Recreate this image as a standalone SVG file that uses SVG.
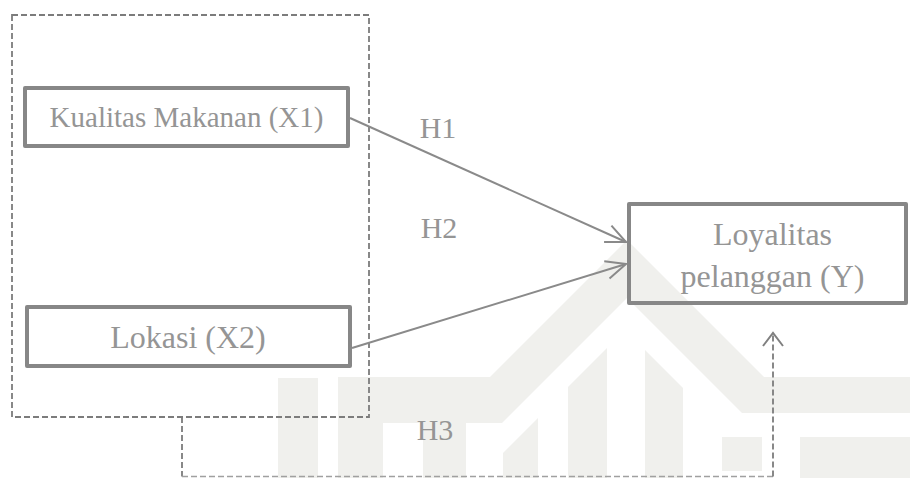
<svg xmlns="http://www.w3.org/2000/svg" width="910" height="478" viewBox="0 0 910 478">
<defs>
<style>
.wm{fill:#f0f0ed;stroke:none}
.box{fill:none;stroke:#878787;stroke-width:4;stroke-linejoin:round}
.dash{fill:none;stroke:#7c7c7c;stroke-width:1.8;stroke-dasharray:6 3}
.dashl{fill:none;stroke:#a0a0a0;stroke-width:1.5;stroke-dasharray:6 3}
.conn{fill:none;stroke:#8a8a8a;stroke-width:2}
.t{font-family:"Liberation Serif","Times New Roman",serif;fill:#959595;text-anchor:middle}
</style>
<marker id="arr" viewBox="0 0 24 24" refX="22" refY="12" markerWidth="24" markerHeight="24" markerUnits="userSpaceOnUse" orient="auto">
<path d="M2,3 L22,12 L2,21" fill="none" stroke="#8a8a8a" stroke-width="2"/>
</marker>
<marker id="arr2" viewBox="0 0 24 24" refX="22" refY="12" markerWidth="24" markerHeight="24" markerUnits="userSpaceOnUse" orient="auto">
<path d="M9,2 L22,12 L9,22" fill="none" stroke="#808080" stroke-width="2"/>
</marker>
</defs>
<rect width="910" height="478" fill="#ffffff"/>
<g id="watermark">
<rect class="wm" x="278" y="378" width="40" height="100"/>
<polygon class="wm" points="338,377 490,377 627,240 764,377 910,377 910,413 742,413 627,298 502,423 466,423 466,478 423,478 423,423 383,423 383,478 338,478"/>
<polygon class="wm" points="503,453 538,418 538,478 503,478"/>
<polygon class="wm" points="568,387 607,348 607,478 568,478"/>
<polygon class="wm" points="645,350 683,388 683,478 645,478"/>
<rect class="wm" x="722" y="437" width="40" height="34"/>
<rect class="wm" x="800" y="437" width="110" height="41"/>
</g>
<g id="group-x">
<rect class="dash" x="12" y="15" width="357" height="402"/>
</g>
<g id="x1">
<rect class="box" x="25" y="88" width="323" height="58"/>
<text class="t" x="186.5" y="127" font-size="29">Kualitas Makanan (X1)</text>
</g>
<g id="x2">
<rect class="box" x="27" y="307" width="323" height="59"/>
<text class="t" x="188" y="348" font-size="32">Lokasi (X2)</text>
</g>
<g id="y">
<rect class="box" x="629" y="204" width="277" height="99"/>
<text class="t" x="772.5" y="245" font-size="32">Loyalitas</text>
<text class="t" x="772.5" y="287" font-size="32">pelanggan (Y)</text>
</g>
<g id="connectors">
<line class="conn" x1="350" y1="118" x2="626" y2="242" marker-end="url(#arr)"/>
<line class="conn" x1="352" y1="348" x2="626" y2="264" marker-end="url(#arr)"/>
<polyline class="dash" points="182,417 182,476.5"/>
<polyline class="dashl" points="182,476.5 773,476.5"/>
<polyline class="dash" points="773,476.5 773,333" marker-end="url(#arr2)"/>
</g>
<g id="labels">
<text class="t" x="438" y="138" font-size="30">H1</text>
<text class="t" x="439" y="238" font-size="30">H2</text>
<text class="t" x="435" y="440" font-size="30">H3</text>
</g>
</svg>
